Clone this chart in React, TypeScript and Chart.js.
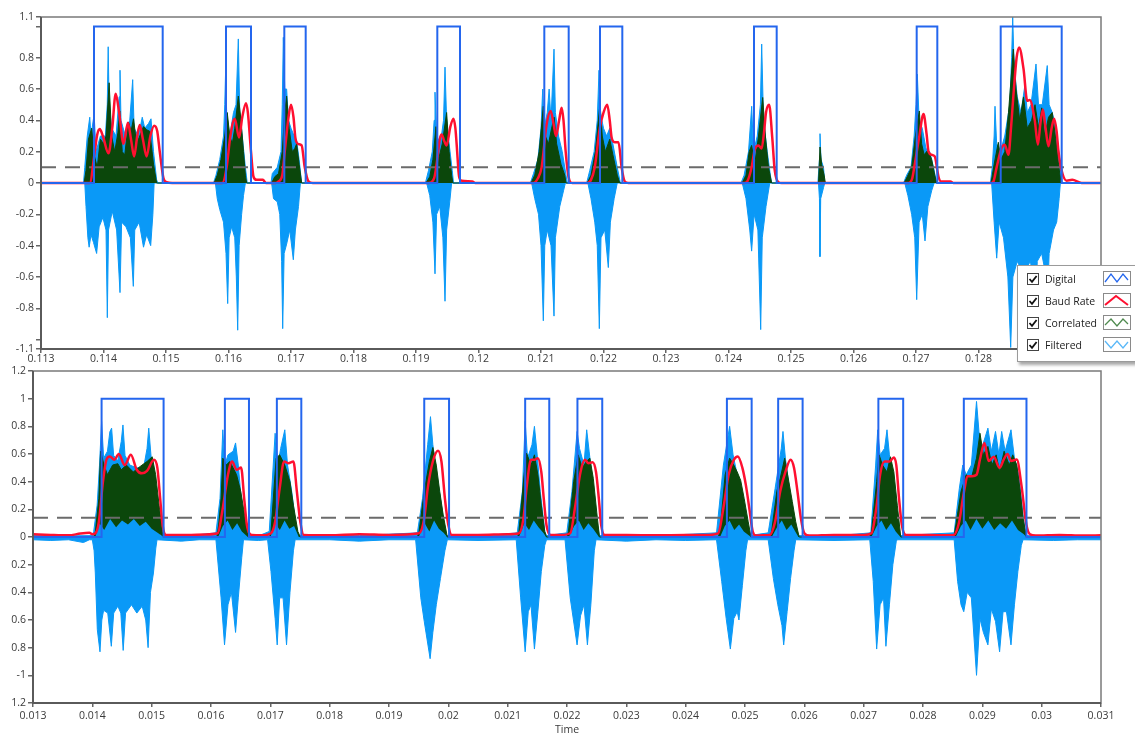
import React, { useEffect, useRef } from "react";
import { Chart, registerables } from "chart.js";

Chart.register(...registerables);

type P = [number, number];

// ---------- shared ----------
const seriesNames = ["Digital", "Baud Rate", "Correlated", "Filtered"];
const DIGITAL = "#2466ee";
const RED = "#ff1030";
const GREEN = "#0b470b";
const BLUE = "#0a99f7";
const DASH = "#6b6b6b";
const FONT = "'Open Sans', 'Noto Sans', sans-serif";
const digitalHigh = 1;

// ---------- top panel (time in ms) ----------
const topXRange: P = [113, 129.96];
const topYRange: P = [-1.06, 1.06];
const topXTicks = [113, 114, 115, 116, 117, 118, 119, 120, 121, 122, 123, 124, 125, 126, 127, 128, 129];
const topXLabels = ["0.113", "0.114", "0.115", "0.116", "0.117", "0.118", "0.119", "0.12", "0.121", "0.122", "0.123", "0.124", "0.125", "0.126", "0.127", "0.128", "0.129"];
const topYTicks = [-1.06, -1, -0.8, -0.6, -0.4, -0.2, 0, 0.2, 0.4, 0.6, 0.8, 1, 1.06];
const topYLabels = ["-1.1", "", "-0.8", "-0.6", "-0.4", "-0.2", "0", "0.2", "0.4", "0.6", "0.8", "", "1.1"];
const topThreshold = 0.1;

const topDigitalEdges: P[] = [
  [113.848, 114.947], [115.96, 116.36], [116.893, 117.235], [119.341, 119.704], [121.053, 121.443],
  [121.944, 122.301], [124.408, 124.771], [127.011, 127.341], [128.355, 129.331],
];

const topBaud: P[] = [
  [113, 0],
  [113.78, 0], [113.86, 0.2], [113.9, 0.31], [113.94, 0.345], [113.99, 0.3], [114.08, 0.19], [114.14, 0.35], [114.195, 0.57], [114.25, 0.45], [114.32, 0.25], [114.39, 0.385], [114.44, 0.28], [114.49, 0.17], [114.54, 0.3], [114.58, 0.37], [114.63, 0.28], [114.69, 0.17], [114.75, 0.3], [114.81, 0.365], [114.86, 0.33], [114.9, 0.2], [114.96, 0.03], [115.01, 0.005], [115.1, 0],
  [115.9, 0], [115.97, 0.1], [116.03, 0.3], [116.1, 0.41], [116.17, 0.29], [116.22, 0.42], [116.28, 0.51], [116.31, 0.45], [116.36, 0.2], [116.4, 0.04], [116.45, 0.02], [116.55, 0.02], [116.6, 0],
  [116.75, 0], [116.8, 0.01], [116.86, 0.05], [116.9, 0.2], [116.96, 0.42], [117.0, 0.5], [117.04, 0.42], [117.07, 0.29], [117.11, 0.25], [117.17, 0.24], [117.22, 0.1], [117.28, 0.01], [117.35, 0],
  [119.2, 0], [119.29, 0.03], [119.33, 0.12], [119.38, 0.28], [119.41, 0.31], [119.45, 0.27], [119.49, 0.24], [119.55, 0.36], [119.6, 0.41], [119.63, 0.35], [119.65, 0.25], [119.69, 0.04], [119.73, 0.015], [119.9, 0.01], [119.95, 0],
  [120.88, 0], [120.95, 0.03], [121.01, 0.1], [121.09, 0.375], [121.155, 0.46], [121.2, 0.38], [121.24, 0.3], [121.29, 0.4], [121.33, 0.48], [121.36, 0.4], [121.395, 0.2], [121.44, 0.04], [121.5, 0],
  [121.74, 0], [121.8, 0.02], [121.86, 0.1], [121.94, 0.35], [122.0, 0.45], [122.06, 0.5], [122.1, 0.4], [122.13, 0.29], [122.18, 0.26], [122.24, 0.26], [122.29, 0.1], [122.34, 0.01], [122.4, 0],
  [124.25, 0], [124.3, 0.01], [124.37, 0.1], [124.42, 0.215], [124.48, 0.24], [124.53, 0.22], [124.57, 0.33], [124.6, 0.45], [124.65, 0.5], [124.7, 0.29], [124.74, 0.08], [124.8, 0.005], [124.85, 0],
  [126.88, 0], [126.94, 0.03], [126.98, 0.12], [127.05, 0.29], [127.12, 0.44], [127.17, 0.31], [127.2, 0.2], [127.25, 0.18], [127.3, 0.17], [127.36, 0.04], [127.4, 0.01], [127.55, 0.01], [127.6, 0],
  [128.2, 0], [128.24, 0.01], [128.29, 0.1], [128.37, 0.225], [128.42, 0.245], [128.48, 0.18], [128.52, 0.35], [128.56, 0.567], [128.61, 0.8], [128.65, 0.866], [128.72, 0.73], [128.78, 0.525], [128.82, 0.53], [128.9, 0.4], [128.95, 0.245], [128.99, 0.38], [129.03, 0.47], [129.07, 0.36], [129.12, 0.235], [129.17, 0.35], [129.21, 0.41], [129.25, 0.33], [129.28, 0.2], [129.33, 0.08], [129.41, 0.015], [129.5, 0.02], [129.65, 0],
  [129.96, 0],
];

const topCorrelated: P[] = [
  [113, 0],
  [113.69, 0], [113.72, 0.08], [113.76, 0.28], [113.81, 0.35], [113.85, 0.18], [113.9, 0.1], [113.95, 0.28], [114.0, 0.25], [114.04, 0.3], [114.09, 0.64], [114.13, 0.3], [114.18, 0.2], [114.23, 0.32], [114.26, 0.46], [114.3, 0.2], [114.34, 0.18], [114.4, 0.39], [114.44, 0.33], [114.48, 0.41], [114.53, 0.25], [114.58, 0.3], [114.64, 0.36], [114.69, 0.34], [114.74, 0.33], [114.8, 0.12], [114.85, 0],
  [115.77, 0], [115.82, 0.05], [115.88, 0.15], [115.94, 0.3], [115.98, 0.45], [116.02, 0.3], [116.06, 0.25], [116.1, 0.35], [116.157, 0.555], [116.2, 0.4], [116.24, 0.2], [116.27, 0.05], [116.29, 0],
  [116.69, 0], [116.74, 0.04], [116.8, 0.06], [116.86, 0.2], [116.9, 0.45], [116.93, 0.555], [116.97, 0.35], [117.02, 0.2], [117.06, 0.22], [117.09, 0.25], [117.13, 0.12], [117.17, 0],
  [119.16, 0], [119.22, 0.04], [119.27, 0.15], [119.32, 0.36], [119.36, 0.15], [119.42, 0.25], [119.49, 0.45], [119.53, 0.2], [119.57, 0.05], [119.59, 0],
  [120.84, 0], [120.9, 0.05], [120.97, 0.2], [121.037, 0.49], [121.07, 0.3], [121.12, 0.25], [121.17, 0.35], [121.21, 0.42], [121.25, 0.25], [121.32, 0.12], [121.38, 0.05], [121.4, 0],
  [121.74, 0], [121.8, 0.05], [121.87, 0.2], [121.944, 0.51], [121.98, 0.3], [122.03, 0.2], [122.1, 0.28], [122.15, 0.18], [122.22, 0.05], [122.26, 0],
  [124.22, 0], [124.28, 0.05], [124.33, 0.2], [124.37, 0.24], [124.42, 0.12], [124.48, 0.3], [124.547, 0.546], [124.59, 0.3], [124.64, 0.1], [124.69, 0],
  [125.44, 0], [125.464, 0.23], [125.49, 0.12], [125.53, 0.05], [125.55, 0],
  [126.81, 0], [126.86, 0.04], [126.93, 0.1], [126.99, 0.3], [127.053, 0.46], [127.09, 0.25], [127.13, 0.18], [127.19, 0.21], [127.25, 0.15], [127.3, 0.05], [127.33, 0],
  [128.2, 0], [128.25, 0.12], [128.317, 0.26], [128.36, 0.15], [128.42, 0.2], [128.48, 0.45], [128.557, 0.855], [128.6, 0.6], [128.66, 0.4], [128.72, 0.55], [128.78, 0.35], [128.85, 0.4], [128.904, 0.5], [128.96, 0.35], [129.011, 0.48], [129.06, 0.3], [129.12, 0.42], [129.18, 0.45], [129.23, 0.3], [129.28, 0.12], [129.32, 0],
  [129.96, 0],
];

const topFilteredHigh: P[] = [
  [113, 0],
  [113.68, 0], [113.7, 0.1], [113.74, 0.3], [113.78, 0.42], [113.8, 0.3], [113.85, 0.44], [113.88, 0.2], [113.95, 0.3], [114.03, 0.3], [114.06, 0.5], [114.075, 0.87], [114.09, 0.5], [114.13, 0.35], [114.2, 0.3], [114.25, 0.55], [114.264, 0.72], [114.28, 0.4], [114.35, 0.3], [114.42, 0.4], [114.467, 0.66], [114.49, 0.35], [114.56, 0.3], [114.62, 0.42], [114.66, 0.35], [114.72, 0.38], [114.76, 0.41], [114.8, 0.2], [114.85, 0.02], [114.87, 0],
  [115.76, 0], [115.8, 0.05], [115.86, 0.15], [115.92, 0.3], [115.94, 0.5], [115.955, 0.74], [115.97, 0.45], [116.02, 0.3], [116.08, 0.45], [116.12, 0.5], [116.157, 0.92], [116.18, 0.45], [116.22, 0.3], [116.27, 0.1], [116.3, 0],
  [116.68, 0], [116.7, 0.06], [116.78, 0.1], [116.84, 0.2], [116.86, 0.5], [116.877, 0.93], [116.9, 0.6], [116.93, 0.6], [116.96, 0.4], [117.0, 0.35], [117.05, 0.3], [117.09, 0.27], [117.13, 0.15], [117.17, 0],
  [119.15, 0], [119.2, 0.08], [119.26, 0.2], [119.29, 0.4], [119.304, 0.58], [119.33, 0.3], [119.39, 0.25], [119.44, 0.4], [119.464, 0.74], [119.49, 0.4], [119.53, 0.25], [119.58, 0.08], [119.6, 0],
  [120.83, 0], [120.88, 0.06], [120.95, 0.15], [121.0, 0.35], [121.027, 0.6], [121.05, 0.35], [121.1, 0.45], [121.13, 0.6], [121.16, 0.4], [121.208, 0.855], [121.23, 0.45], [121.28, 0.3], [121.34, 0.2], [121.4, 0.05], [121.42, 0],
  [121.73, 0], [121.78, 0.08], [121.85, 0.2], [121.9, 0.4], [121.928, 0.72], [121.95, 0.45], [122.0, 0.35], [122.05, 0.3], [122.1, 0.35], [122.15, 0.25], [122.22, 0.1], [122.27, 0],
  [124.2, 0], [124.25, 0.05], [124.32, 0.2], [124.371, 0.49], [124.4, 0.2], [124.46, 0.3], [124.51, 0.5], [124.531, 0.887], [124.56, 0.4], [124.62, 0.2], [124.67, 0.05], [124.69, 0],
  [125.43, 0], [125.455, 0.15], [125.464, 0.315], [125.48, 0.15], [125.52, 0.1], [125.54, 0],
  [126.8, 0], [126.85, 0.05], [126.92, 0.1], [126.97, 0.3], [127.0, 0.5], [127.021, 0.695], [127.05, 0.4], [127.1, 0.35], [127.16, 0.22], [127.22, 0.2], [127.28, 0.1], [127.33, 0],
  [128.19, 0], [128.22, 0.1], [128.25, 0.3], [128.264, 0.49], [128.29, 0.25], [128.35, 0.2], [128.42, 0.3], [128.5, 0.5], [128.53, 0.8], [128.547, 1.06], [128.57, 0.75], [128.62, 0.55], [128.68, 0.45], [128.744, 0.63], [128.78, 0.45], [128.84, 0.5], [128.92, 0.76], [128.96, 0.5], [129.02, 0.5], [129.1, 0.75], [129.13, 0.5], [129.18, 0.45], [129.24, 0.35], [129.3, 0.15], [129.34, 0],
  [129.96, 0],
];

const topFilteredLow: P[] = [
  [113, 0],
  [113.7, 0], [113.72, -0.15], [113.75, -0.35], [113.77, -0.41], [113.8, -0.33], [113.84, -0.38], [113.89, -0.45], [113.93, -0.28], [113.99, -0.22], [114.04, -0.3], [114.061, -0.86], [114.08, -0.3], [114.14, -0.18], [114.21, -0.3], [114.264, -0.7], [114.29, -0.25], [114.36, -0.28], [114.43, -0.35], [114.477, -0.66], [114.5, -0.3], [114.57, -0.25], [114.64, -0.41], [114.69, -0.33], [114.755, -0.4], [114.79, -0.2], [114.81, 0],
  [115.79, 0], [115.82, -0.1], [115.86, -0.17], [115.92, -0.25], [115.96, -0.45], [115.987, -0.77], [116.01, -0.35], [116.05, -0.28], [116.1, -0.35], [116.125, -0.6], [116.147, -0.94], [116.17, -0.4], [116.21, -0.2], [116.24, -0.08], [116.27, 0],
  [116.69, 0], [116.72, -0.1], [116.78, -0.12], [116.82, -0.2], [116.85, -0.5], [116.867, -0.93], [116.89, -0.45], [116.93, -0.39], [116.98, -0.3], [117.037, -0.49], [117.07, -0.3], [117.12, -0.15], [117.15, 0],
  [119.17, 0], [119.22, -0.08], [119.27, -0.25], [119.304, -0.58], [119.33, -0.2], [119.38, -0.15], [119.43, -0.35], [119.464, -0.755], [119.49, -0.3], [119.54, -0.12], [119.57, 0],
  [120.85, 0], [120.9, -0.1], [120.96, -0.2], [121.0, -0.4], [121.037, -0.88], [121.06, -0.4], [121.1, -0.3], [121.16, -0.4], [121.208, -0.85], [121.23, -0.35], [121.3, -0.15], [121.36, -0.05], [121.39, 0],
  [121.75, 0], [121.8, -0.1], [121.86, -0.25], [121.9, -0.4], [121.933, -0.93], [121.96, -0.35], [122.02, -0.3], [122.077, -0.54], [122.11, -0.25], [122.17, -0.1], [122.22, 0],
  [124.22, 0], [124.28, -0.1], [124.34, -0.3], [124.37, -0.435], [124.41, -0.2], [124.47, -0.3], [124.515, -0.936], [124.54, -0.35], [124.6, -0.15], [124.66, 0],
  [125.44, 0], [125.455, -0.1], [125.464, -0.47], [125.475, -0.1], [125.52, -0.03], [125.54, 0],
  [126.82, 0], [126.87, -0.08], [126.93, -0.2], [126.98, -0.35], [127.011, -0.745], [127.05, -0.25], [127.1, -0.2], [127.144, -0.37], [127.19, -0.15], [127.25, -0.05], [127.29, 0],
  [128.21, 0], [128.25, -0.25], [128.291, -0.48], [128.33, -0.25], [128.4, -0.35], [128.47, -0.6], [128.515, -1.05], [128.55, -0.6], [128.62, -0.5], [128.68, -0.55], [128.717, -0.9], [128.76, -0.55], [128.83, -0.5], [128.87, -0.6], [128.904, -0.95], [128.94, -0.5], [129.01, -0.45], [129.06, -0.55], [129.091, -0.9], [129.13, -0.45], [129.2, -0.3], [129.251, -0.25], [129.29, -0.1], [129.31, 0],
  [129.96, 0],
];

// ---------- bottom panel (time in ms) ----------
const botXRange: P = [13, 31];
const botYRange: P = [-1.2, 1.2];
const botXTicks = [13, 14, 15, 16, 17, 18, 19, 20, 21, 22, 23, 24, 25, 26, 27, 28, 29, 30, 31];
const botXLabels = ["0.013", "0.014", "0.015", "0.016", "0.017", "0.018", "0.019", "0.02", "0.021", "0.022", "0.023", "0.024", "0.025", "0.026", "0.027", "0.028", "0.029", "0.03", "0.031"];
const botYTicks = [-1.2, -1, -0.8, -0.6, -0.4, -0.2, 0, 0.2, 0.4, 0.6, 0.8, 1, 1.2];
const botYLabels = ["1.2", "-1", "0.8", "0.6", "0.4", "0.2", "0", "0.2", "0.4", "0.6", "0.8", "1", "1.2"];
const botThreshold = 0.14;
const botXTitle = "Time";

const botDigitalEdges: P[] = [
  [14.156, 15.201], [16.234, 16.64], [17.11, 17.522], [19.594, 20.012], [21.295, 21.701],
  [22.176, 22.594], [24.695, 25.112], [25.559, 25.971], [27.248, 27.666], [28.688, 29.744],
];

const botBaud: P[] = [
  [13, 0.02], [13.3, 0.015], [13.6, 0.012], [13.8, 0.025], [13.95, 0.03], [14.0, 0.02],
  [14.052, 0.027], [14.11, 0.11], [14.179, 0.4], [14.237, 0.558], [14.295, 0.582], [14.371, 0.558], [14.446, 0.6], [14.545, 0.52], [14.649, 0.594], [14.748, 0.486], [14.835, 0.46], [14.922, 0.478], [15.038, 0.558], [15.096, 0.5], [15.143, 0.28], [15.184, 0.087], [15.242, 0.015],
  [15.6, 0.015], [15.9, 0.018],
  [16.112, 0.027], [16.199, 0.21], [16.286, 0.45], [16.356, 0.546], [16.431, 0.486], [16.507, 0.502], [16.559, 0.28], [16.605, 0.087], [16.692, 0.015],
  [16.85, 0.012],
  [17.011, 0.027], [17.081, 0.11], [17.157, 0.35], [17.232, 0.546], [17.302, 0.534], [17.389, 0.546], [17.447, 0.33], [17.505, 0.11], [17.563, 0.015],
  [18.0, 0.012], [18.5, 0.02], [19.0, 0.015],
  [19.507, 0.027], [19.594, 0.135], [19.652, 0.35], [19.739, 0.546], [19.826, 0.623], [19.884, 0.546], [19.942, 0.28], [20.0, 0.087], [20.058, 0.015],
  [20.5, 0.015], [21.0, 0.02],
  [21.19, 0.027], [21.266, 0.135], [21.324, 0.377], [21.393, 0.558], [21.451, 0.558], [21.509, 0.57], [21.567, 0.47], [21.608, 0.28], [21.654, 0.087], [21.724, 0.015],
  [21.9, 0.015],
  [22.054, 0.027], [22.141, 0.23], [22.228, 0.47], [22.303, 0.558], [22.361, 0.534], [22.431, 0.54], [22.489, 0.47], [22.536, 0.28], [22.576, 0.087], [22.634, 0.015],
  [23.0, 0.015], [23.5, 0.012], [24.0, 0.015], [24.4, 0.015],
  [24.549, 0.027], [24.636, 0.21], [24.724, 0.45], [24.811, 0.558], [24.88, 0.582], [24.956, 0.5], [25.014, 0.377], [25.072, 0.21], [25.13, 0.04], [25.188, 0.01],
  [25.3, 0.012],
  [25.42, 0.015], [25.507, 0.11], [25.594, 0.33], [25.681, 0.47], [25.768, 0.558], [25.826, 0.5], [25.884, 0.33], [25.942, 0.135], [26.0, 0.027], [26.087, 0.01],
  [26.5, 0.015], [27.0, 0.015],
  [27.132, 0.027], [27.219, 0.23], [27.277, 0.45], [27.352, 0.546], [27.434, 0.546], [27.509, 0.575], [27.55, 0.52], [27.596, 0.28], [27.643, 0.087], [27.712, 0.015],
  [28.1, 0.015], [28.4, 0.012],
  [28.52, 0.015], [28.61, 0.11], [28.68, 0.3], [28.757, 0.44], [28.83, 0.44], [28.902, 0.45], [28.96, 0.56], [29.036, 0.68], [29.105, 0.55], [29.192, 0.58], [29.291, 0.5], [29.36, 0.56], [29.425, 0.6], [29.483, 0.55], [29.581, 0.56], [29.657, 0.38], [29.744, 0.087], [29.802, 0.02], [29.9, 0.01],
  [30.3, 0.015], [30.7, 0.01], [31, 0.012],
];

const botCorrelated: P[] = [
  [13, 0],
  [14.03, 0], [14.052, 0.04], [14.11, 0.28], [14.139, 0.62], [14.197, 0.52], [14.255, 0.45], [14.342, 0.52], [14.429, 0.53], [14.487, 0.486], [14.574, 0.52], [14.69, 0.47], [14.806, 0.51], [14.922, 0.546], [15.009, 0.58], [15.067, 0.45], [15.125, 0.23], [15.183, 0.04], [15.212, 0],
  [16.1, 0], [16.129, 0.087], [16.17, 0.28], [16.199, 0.57], [16.257, 0.52], [16.315, 0.546], [16.373, 0.5], [16.431, 0.45], [16.501, 0.33], [16.576, 0.135], [16.634, 0],
  [16.99, 0], [17.011, 0.04], [17.098, 0.57], [17.157, 0.594], [17.244, 0.52], [17.331, 0.4], [17.389, 0.23], [17.464, 0.04], [17.505, 0],
  [19.48, 0], [19.507, 0.04], [19.594, 0.33], [19.681, 0.546], [19.739, 0.647], [19.797, 0.52], [19.855, 0.33], [19.913, 0.16], [19.983, 0],
  [21.17, 0], [21.19, 0.04], [21.277, 0.45], [21.318, 0.606], [21.393, 0.52], [21.451, 0.594], [21.509, 0.45], [21.567, 0.23], [21.625, 0.04], [21.654, 0],
  [22.0, 0], [22.025, 0.04], [22.112, 0.4], [22.188, 0.594], [22.257, 0.5], [22.327, 0.546], [22.385, 0.57], [22.443, 0.425], [22.501, 0.18], [22.547, 0],
  [24.55, 0], [24.578, 0.04], [24.665, 0.45], [24.741, 0.57], [24.811, 0.52], [24.869, 0.47], [24.927, 0.41], [24.985, 0.28], [25.054, 0.11], [25.101, 0],
  [25.42, 0], [25.449, 0.04], [25.536, 0.33], [25.594, 0.425], [25.669, 0.57], [25.739, 0.4], [25.797, 0.256], [25.855, 0.11], [25.913, 0],
  [27.1, 0], [27.132, 0.04], [27.219, 0.4], [27.26, 0.594], [27.318, 0.52], [27.393, 0.47], [27.451, 0.58], [27.509, 0.47], [27.567, 0.23], [27.625, 0],
  [28.52, 0], [28.554, 0.087], [28.641, 0.33], [28.728, 0.45], [28.815, 0.425], [28.902, 0.57], [28.96, 0.75], [29.018, 0.594], [29.094, 0.655], [29.163, 0.52], [29.233, 0.594], [29.291, 0.47], [29.367, 0.62], [29.454, 0.52], [29.512, 0.594], [29.581, 0.52], [29.639, 0.33], [29.686, 0.135], [29.744, 0],
  [31, 0],
];

const botCorrelatedLow: P[] = [
  [13, 0],
  [14.05, 0], [14.12, 0.1], [14.2, 0.05], [14.3, 0.13], [14.4, 0.07], [14.5, 0.12], [14.6, 0.09], [14.7, 0.13], [14.8, 0.08], [14.9, 0.11], [15.0, 0.06], [15.1, 0.03], [15.2, 0],
  [16.12, 0], [16.2, 0.08], [16.28, 0.12], [16.36, 0.05], [16.44, 0.1], [16.52, 0.04], [16.62, 0],
  [17.0, 0], [17.08, 0.1], [17.16, 0.05], [17.24, 0.12], [17.32, 0.06], [17.4, 0.08], [17.48, 0],
  [19.5, 0], [19.6, 0.1], [19.68, 0.04], [19.76, 0.12], [19.84, 0.06], [19.92, 0.03], [19.98, 0],
  [21.19, 0], [21.28, 0.1], [21.36, 0.05], [21.44, 0.12], [21.52, 0.07], [21.6, 0.03], [21.65, 0],
  [22.03, 0], [22.12, 0.08], [22.2, 0.12], [22.28, 0.05], [22.36, 0.1], [22.44, 0.06], [22.54, 0],
  [24.58, 0], [24.66, 0.08], [24.74, 0.12], [24.82, 0.05], [24.9, 0.09], [24.98, 0.04], [25.1, 0],
  [25.45, 0], [25.54, 0.07], [25.62, 0.12], [25.7, 0.05], [25.78, 0.09], [25.9, 0],
  [27.13, 0], [27.22, 0.08], [27.3, 0.12], [27.38, 0.05], [27.46, 0.1], [27.54, 0.04], [27.62, 0],
  [28.55, 0], [28.64, 0.08], [28.72, 0.12], [28.8, 0.05], [28.9, 0.13], [29.0, 0.06], [29.1, 0.12], [29.2, 0.05], [29.3, 0.1], [29.4, 0.06], [29.5, 0.12], [29.6, 0.05], [29.7, 0.02], [29.74, 0],
  [31, 0],
];

const botFilteredHigh: P[] = [
  [13, 0.01], [13.5, 0.008], [14.0, 0.01],
  [14.023, 0.04], [14.081, 0.23], [14.121, 0.52], [14.156, 0.836], [14.191, 0.57], [14.255, 0.62], [14.295, 0.76], [14.325, 0.787], [14.359, 0.59], [14.429, 0.55], [14.487, 0.69], [14.516, 0.81], [14.551, 0.59], [14.632, 0.52], [14.748, 0.5], [14.864, 0.5], [14.922, 0.64], [14.951, 0.787], [14.992, 0.57], [15.05, 0.45], [15.096, 0.21], [15.143, 0.01],
  [15.6, 0.008],
  [16.083, 0.03], [16.152, 0.28], [16.199, 0.775], [16.234, 0.52], [16.286, 0.594], [16.373, 0.62], [16.414, 0.68], [16.46, 0.52], [16.518, 0.23], [16.594, 0.01],
  [16.8, 0.008],
  [16.982, 0.04], [17.081, 0.75], [17.127, 0.52], [17.174, 0.64], [17.244, 0.775], [17.29, 0.52], [17.36, 0.33], [17.429, 0.087], [17.476, 0.01],
  [18.5, 0.01],
  [19.478, 0.03], [19.565, 0.28], [19.652, 0.667], [19.699, 0.87], [19.739, 0.667], [19.797, 0.47], [19.884, 0.23], [19.96, 0.01],
  [20.6, 0.008],
  [21.161, 0.03], [21.248, 0.33], [21.295, 0.836], [21.335, 0.57], [21.41, 0.667], [21.451, 0.8], [21.492, 0.62], [21.55, 0.33], [21.625, 0.04], [21.654, 0.01],
  [21.996, 0.03], [22.083, 0.33], [22.17, 0.763], [22.211, 0.64], [22.286, 0.52], [22.332, 0.775], [22.373, 0.62], [22.431, 0.4], [22.501, 0.11], [22.547, 0.01],
  [23.5, 0.008],
  [24.52, 0.03], [24.636, 0.52], [24.741, 0.8], [24.799, 0.594], [24.869, 0.45], [24.938, 0.33], [25.014, 0.135], [25.072, 0.01],
  [25.391, 0.03], [25.507, 0.35], [25.611, 0.64], [25.64, 0.763], [25.681, 0.57], [25.739, 0.377], [25.826, 0.11], [25.884, 0.01],
  [26.5, 0.008],
  [27.12, 0.03], [27.202, 0.52], [27.237, 0.775], [27.277, 0.594], [27.352, 0.64], [27.393, 0.775], [27.434, 0.594], [27.492, 0.425], [27.567, 0.11], [27.608, 0.01],
  [28.525, 0.03], [28.612, 0.35], [28.67, 0.52], [28.728, 0.45], [28.815, 0.52], [28.902, 0.98], [28.943, 0.763], [28.989, 0.64], [29.094, 0.787], [29.152, 0.62], [29.222, 0.763], [29.28, 0.594], [29.326, 0.763], [29.384, 0.62], [29.483, 0.775], [29.541, 0.57], [29.616, 0.45], [29.686, 0.16], [29.732, 0.01],
  [30.5, 0.008], [31, 0.01],
];

const botFilteredLow: P[] = [
  [13, -0.02], [13.3, -0.025], [13.6, -0.02], [13.85, -0.04], [13.95, -0.02],
  [14.0, -0.02], [14.03, -0.1], [14.05, -0.26], [14.084, -0.67], [14.129, -0.83], [14.16, -0.6], [14.19, -0.53], [14.26, -0.55], [14.32, -0.79], [14.36, -0.55], [14.43, -0.5], [14.48, -0.55], [14.52, -0.82], [14.56, -0.55], [14.66, -0.49], [14.75, -0.55], [14.84, -0.5], [14.9, -0.6], [14.94, -0.8], [14.98, -0.4], [15.03, -0.26], [15.07, -0.08], [15.09, -0.02],
  [15.5, -0.03], [15.8, -0.02],
  [16.083, -0.02], [16.17, -0.44], [16.228, -0.78], [16.286, -0.49], [16.344, -0.4], [16.414, -0.69], [16.46, -0.44], [16.518, -0.15], [16.547, -0.02],
  [16.8, -0.025],
  [16.954, -0.02], [17.011, -0.25], [17.081, -0.59], [17.116, -0.78], [17.157, -0.44], [17.215, -0.44], [17.273, -0.78], [17.331, -0.4], [17.389, -0.1], [17.418, -0.02],
  [18.0, -0.02], [18.5, -0.03], [19.0, -0.02],
  [19.449, -0.02], [19.536, -0.44], [19.594, -0.61], [19.693, -0.88], [19.739, -0.69], [19.797, -0.49], [19.867, -0.3], [19.942, -0.1], [19.983, -0.02],
  [20.5, -0.025],
  [21.144, -0.02], [21.219, -0.44], [21.295, -0.83], [21.347, -0.54], [21.393, -0.49], [21.451, -0.81], [21.509, -0.54], [21.567, -0.25], [21.625, -0.06], [21.654, -0.02],
  [21.967, -0.02], [22.054, -0.44], [22.17, -0.78], [22.228, -0.57], [22.286, -0.49], [22.344, -0.78], [22.402, -0.49], [22.46, -0.1], [22.489, -0.02],
  [23.0, -0.03], [23.5, -0.02], [24.0, -0.025],
  [24.52, -0.02], [24.607, -0.32], [24.683, -0.59], [24.753, -0.81], [24.811, -0.59], [24.869, -0.54], [24.898, -0.6], [24.956, -0.35], [25.014, -0.1], [25.043, -0.02],
  [25.391, -0.02], [25.478, -0.3], [25.553, -0.49], [25.623, -0.64], [25.652, -0.78], [25.71, -0.54], [25.768, -0.3], [25.826, -0.1], [25.855, -0.02],
  [26.5, -0.025],
  [27.103, -0.02], [27.161, -0.32], [27.219, -0.81], [27.277, -0.49], [27.335, -0.44], [27.375, -0.79], [27.434, -0.49], [27.492, -0.2], [27.55, -0.03], [27.567, -0.02],
  [28.525, -0.02], [28.583, -0.32], [28.641, -0.49], [28.687, -0.54], [28.745, -0.4], [28.815, -0.44], [28.902, -1.0], [28.96, -0.59], [29.018, -0.69], [29.094, -0.78], [29.152, -0.52], [29.222, -0.61], [29.291, -0.83], [29.349, -0.54], [29.407, -0.54], [29.483, -0.78], [29.541, -0.49], [29.599, -0.25], [29.657, -0.06], [29.686, -0.02],
  [30.2, -0.025], [30.6, -0.02], [31, -0.02],
];

// ---------- helpers ----------
const toXY = (arr: P[]) => arr.map(([x, y]) => ({ x, y }));

function digitalPoints(edges: P[], range: P) {
  const pts = [{ x: range[0], y: 0 }];
  edges.forEach(([a, b]) => {
    pts.push({ x: a, y: 0 }, { x: a, y: digitalHigh }, { x: b, y: digitalHigh }, { x: b, y: 0 });
  });
  pts.push({ x: range[1], y: 0 });
  return pts;
}

const framePlugin = {
  id: "frame",
  afterDraw(chart: any) {
    const { ctx, chartArea } = chart;
    const { left, top, right, bottom } = chartArea;
    ctx.save();
    ctx.strokeStyle = "#7a7a7a";
    ctx.lineWidth = 1.5;
    ctx.strokeRect(left, top, right - left, bottom - top);
    ctx.strokeStyle = "#5a5a5a";
    ctx.lineWidth = 2;
    ctx.beginPath();
    ctx.moveTo(left, top);
    ctx.lineTo(left, bottom);
    ctx.lineTo(right, bottom);
    ctx.stroke();
    ctx.restore();
  },
};

interface PanelSpec {
  xRange: P;
  yRange: P;
  xTicks: number[];
  xLabels: string[];
  yTicks: number[];
  yLabels: string[];
  threshold: number;
  edges: P[];
  baud: P[];
  corr: P[];
  corrLow: P[] | null;
  filtHigh: P[];
  filtLow: P[];
  padding: { left: number; top: number; right: number; bottom: number };
  yWidth: number;
  xHeight: number;
  xTitle: string | null;
  tickPad: number;
}

function buildConfig(s: PanelSpec): any {
  const base = { pointRadius: 0, pointHoverRadius: 0 };
  const datasets: any[] = [
    { ...base, label: seriesNames[0], data: digitalPoints(s.edges, s.xRange), borderColor: DIGITAL, borderWidth: 2, fill: false, tension: 0 },
    { ...base, label: seriesNames[1], data: toXY(s.baud), borderColor: RED, borderWidth: 2.5, fill: false, cubicInterpolationMode: "monotone" },
    { ...base, label: "Threshold", data: [{ x: s.xRange[0], y: s.threshold }, { x: s.xRange[1], y: s.threshold }], borderColor: DASH, borderWidth: 2, borderDash: [15, 9], fill: false },
    { ...base, label: seriesNames[2], data: toXY(s.corr), borderColor: GREEN, backgroundColor: GREEN, borderWidth: 1, fill: s.corrLow ? "+1" : "origin", tension: 0 },
  ];
  if (s.corrLow) {
    datasets.push({ ...base, label: "CorrelatedLow", data: toXY(s.corrLow), borderColor: "rgba(0,0,0,0)", borderWidth: 0, fill: false, tension: 0 });
  }
  datasets.push(
    { ...base, label: seriesNames[3], data: toXY(s.filtHigh), borderColor: BLUE, backgroundColor: BLUE, borderWidth: 1, fill: "+1", tension: 0 },
    { ...base, label: "FilteredLow", data: toXY(s.filtLow), borderColor: BLUE, borderWidth: 1, fill: false, tension: 0 }
  );

  const tickFont = { family: FONT, size: 10.5 };
  return {
    type: "line",
    data: { datasets },
    options: {
      animation: false,
      responsive: false,
      maintainAspectRatio: false,
      events: [],
      layout: { padding: s.padding },
      plugins: { legend: { display: false }, tooltip: { enabled: false }, title: { display: false } },
      scales: {
        x: {
          type: "linear",
          min: s.xRange[0],
          max: s.xRange[1],
          afterBuildTicks: (sc: any) => {
            sc.ticks = s.xTicks.map((v) => ({ value: v }));
          },
          afterFit: (sc: any) => {
            sc.height = s.xHeight;
          },
          ticks: {
            autoSkip: false,
            maxRotation: 0,
            color: "#3a3a3a",
            font: tickFont,
            padding: s.tickPad,
            callback: (_v: any, i: number) => s.xLabels[i],
          },
          grid: { display: true, drawOnChartArea: false, drawTicks: true, tickLength: 4, color: "#666", lineWidth: 1.5 },
          border: { display: false },
          title: s.xTitle
            ? { display: true, text: s.xTitle, color: "#3a3a3a", font: tickFont, padding: { top: 0, bottom: 0 } }
            : { display: false },
        },
        y: {
          type: "linear",
          min: s.yRange[0],
          max: s.yRange[1],
          afterBuildTicks: (sc: any) => {
            sc.ticks = s.yTicks.map((v) => ({ value: v }));
          },
          afterFit: (sc: any) => {
            sc.width = s.yWidth;
          },
          ticks: {
            autoSkip: false,
            color: "#3a3a3a",
            font: tickFont,
            padding: 2,
            callback: (_v: any, i: number) => s.yLabels[i],
          },
          grid: { display: true, drawOnChartArea: false, drawTicks: true, tickLength: 5, color: "#666", lineWidth: 1.5 },
          border: { display: false },
        },
      },
    },
    plugins: [framePlugin],
  };
}

const topSpec: PanelSpec = {
  xRange: topXRange, yRange: topYRange, xTicks: topXTicks, xLabels: topXLabels, yTicks: topYTicks, yLabels: topYLabels,
  threshold: topThreshold, edges: topDigitalEdges, baud: topBaud, corr: topCorrelated, corrLow: null,
  filtHigh: topFilteredHigh, filtLow: topFilteredLow,
  padding: { left: 0, top: 17, right: 34, bottom: 371 }, yWidth: 41, xHeight: 16, xTitle: null, tickPad: 0,
};

const botSpec: PanelSpec = {
  xRange: botXRange, yRange: botYRange, xTicks: botXTicks, xLabels: botXLabels, yTicks: botYTicks, yLabels: botYLabels,
  threshold: botThreshold, edges: botDigitalEdges, baud: botBaud, corr: botCorrelated, corrLow: botCorrelatedLow,
  filtHigh: botFilteredHigh, filtLow: botFilteredLow,
  padding: { left: 0, top: 371, right: 34, bottom: 0 }, yWidth: 33, xHeight: 33, xTitle: botXTitle, tickPad: 3,
};

function Panel({ spec }: { spec: PanelSpec }) {
  const ref = useRef<HTMLCanvasElement | null>(null);
  useEffect(() => {
    if (!ref.current) return;
    const chart = new Chart(ref.current, buildConfig(spec));
    return () => chart.destroy();
  }, [spec]);
  return (
    <canvas
      ref={ref}
      width={1135}
      height={736}
      style={{ position: "absolute", left: 0, top: 0, width: 1135, height: 736, pointerEvents: "none" }}
    />
  );
}

const legendColors = [DIGITAL, RED, "#4f8a4f", "#5ab8f8"];
const legendPaths = [
  "M2 11 L8 3 L14 11 L20 3 L25 9",
  "M2 12 L13 3 L25 12",
  "M2 10 L8 4 L14 11 L20 4 L25 9",
  "M2 4 L8 11 L14 4 L20 11 L25 5",
];

function Legend() {
  return (
    <div
      style={{
        position: "absolute",
        left: 1017,
        top: 265,
        width: 125,
        height: 95,
        background: "#fff",
        border: "1px solid #9a9a9a",
        boxShadow: "2px 3px 3px rgba(0,0,0,0.35)",
        fontFamily: FONT,
        fontSize: 10.5,
        color: "#222",
        zIndex: 5,
      }}
    >
      {seriesNames.map((name, i) => (
        <div key={name} style={{ position: "absolute", left: 0, top: 4 + i * 22, height: 18, width: 125 }}>
          <svg width={12} height={12} style={{ position: "absolute", left: 9, top: 3 }}>
            <rect x={0.5} y={0.5} width={11} height={11} fill="#fff" stroke="#444" strokeWidth={1} />
            <path d="M2.5 6 L5 8.8 L9.6 3" fill="none" stroke="#111" strokeWidth={1.8} />
          </svg>
          <span style={{ position: "absolute", left: 27, top: 1, lineHeight: "16px", whiteSpace: "nowrap" }}>{name}</span>
          <svg width={28} height={15} style={{ position: "absolute", left: 85, top: 1 }}>
            <rect x={0.5} y={0.5} width={27} height={14} fill="#fff" stroke="#8a8a8a" strokeWidth={1} />
            <path d={legendPaths[i]} fill="none" stroke={legendColors[i]} strokeWidth={i === 1 ? 2 : 1.3} />
          </svg>
        </div>
      ))}
    </div>
  );
}

export default function App() {
  return (
    <div style={{ position: "fixed", left: 0, top: 0, width: 1135, height: 736, background: "#fff", overflow: "hidden" }}>
      <Panel spec={topSpec} />
      <Panel spec={botSpec} />
      <Legend />
    </div>
  );
}
